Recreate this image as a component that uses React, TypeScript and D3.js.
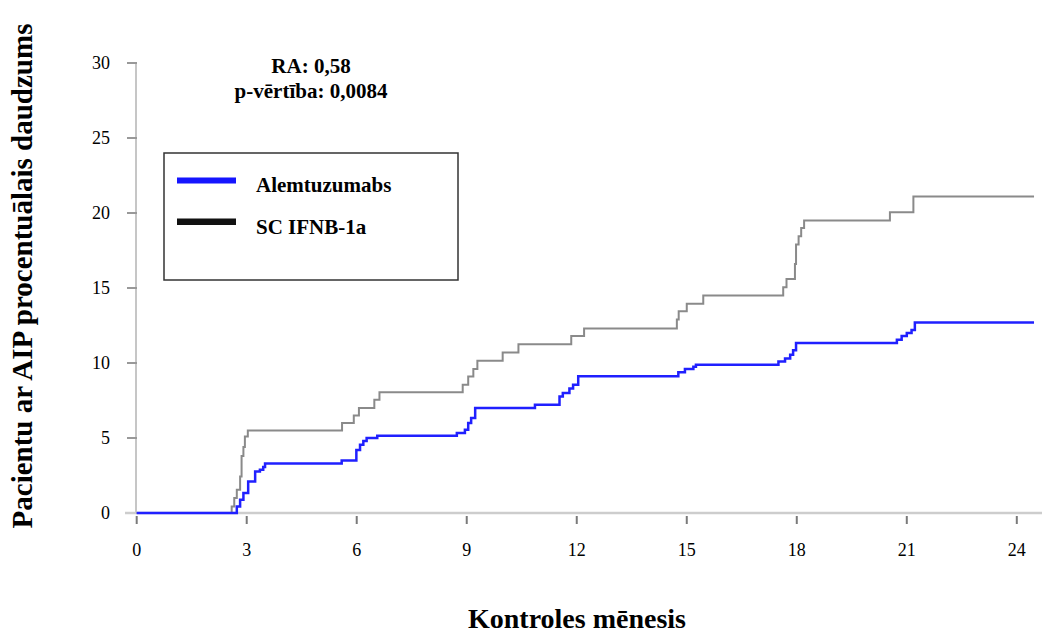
import React from 'react';
import { scaleLinear, line, curveStepAfter } from 'd3';

// axis ticks
const xTicks = [0, 3, 6, 9, 12, 15, 18, 21, 24];
const yTicks = [0, 5, 10, 15, 20, 25, 30];

// [month, % of patients] step points
const alemtuzumabs: [number, number][] = [
  [0, 0], [2.73, 0.44], [2.82, 0.89], [2.91, 1.33], [3.04, 2.1], [3.23, 2.77], [3.36, 2.89], [3.45, 3.07], [3.5, 3.3],
  [5.59, 3.5], [5.99, 4.2], [6.09, 4.55], [6.18, 4.8], [6.27, 5.0], [6.56, 5.15],
  [8.73, 5.33], [8.95, 5.55], [9.04, 6.0], [9.12, 6.33], [9.23, 7.0],
  [10.86, 7.22],
  [11.53, 7.77], [11.62, 8.0], [11.8, 8.3], [11.9, 8.55], [12.04, 9.12],
  [14.77, 9.38], [14.95, 9.6], [15.18, 9.75], [15.25, 9.88],
  [17.5, 10.1], [17.68, 10.3], [17.82, 10.55], [17.9, 10.85], [17.98, 11.33],
  [20.73, 11.55], [20.86, 11.8], [21.0, 12.0], [21.13, 12.2], [21.22, 12.7],
  [24.47, 12.7],
];

const scIfnb: [number, number][] = [
  [0, 0], [2.59, 0.44], [2.66, 1.0], [2.73, 1.55], [2.82, 2.44], [2.86, 3.8], [2.91, 4.4], [2.95, 5.1], [3.03, 5.5],
  [5.6, 6.0], [5.92, 6.5], [6.06, 7.0], [6.48, 7.55], [6.62, 8.05],
  [8.89, 8.55], [9.04, 9.1], [9.18, 9.6], [9.29, 10.15],
  [9.98, 10.7], [10.41, 11.25],
  [11.85, 11.8], [12.2, 12.3],
  [14.73, 12.9], [14.78, 13.45], [15.0, 13.95], [15.45, 14.5],
  [17.63, 15.05], [17.72, 15.6], [17.95, 16.6], [17.98, 17.9], [18.05, 18.45], [18.12, 19.0], [18.2, 19.5],
  [20.54, 20.05], [21.18, 21.1],
  [24.47, 21.1],
];

const seriesNames = ['Alemtuzumabs', 'SC IFNB-1a'];
const statLines = ['RA: 0,58', 'p-vērtība: 0,0084'];
const xTitle = 'Kontroles mēnesis';
const yTitle = 'Pacientu ar AIP procentuālais daudzums';

const font = '"Liberation Serif", "Times New Roman", serif';

function App() {
  const W = 1042, H = 634;

  const x = scaleLinear().domain([0, 24]).range([136.7, 1016.8]);
  const y = scaleLinear().domain([0, 30]).range([513, 63]);

  const step = line<[number, number]>()
    .x(d => x(d[0]))
    .y(d => y(d[1]))
    .curve(curveStepAfter);

  return (
    <svg width={W} height={H} style={{ position: 'absolute', left: 0, top: 0, background: '#fff', fontFamily: font }}>
      <rect width={W} height={H} fill="#fff" />

      {/* y axis */}
      <line x1={136} x2={136} y1={y(30)} y2={y(0)} stroke="#c6c6c6" strokeWidth={2} />
      {yTicks.map(t => (
        <g key={'y' + t}>
          <line x1={127} x2={137} y1={y(t)} y2={y(t)} stroke="#999" strokeWidth={2} />
          <text x={110} y={y(t) + 6} textAnchor="end" fontSize={18}>{t}</text>
        </g>
      ))}

      {/* x axis */}
      <line x1={125} x2={W} y1={y(0)} y2={y(0)} stroke="#cdcdcd" strokeWidth={2.5} />
      {xTicks.map(t => (
        <g key={'x' + t}>
          <line x1={x(t)} x2={x(t)} y1={516} y2={524} stroke="#7a7a7a" strokeWidth={2} />
          <text x={x(t)} y={556} textAnchor="middle" fontSize={18}>{t}</text>
        </g>
      ))}

      {/* curves */}
      <path d={step(scIfnb) || ''} fill="none" stroke="#8a8a8a" strokeWidth={2} />
      <path d={step(alemtuzumabs) || ''} fill="none" stroke="#2020ff" strokeWidth={2.5} />

      {/* stats */}
      {statLines.map((s, i) => (
        <text key={s} x={311} y={73 + i * 25} textAnchor="middle" fontSize={21} fontWeight="bold">{s}</text>
      ))}

      {/* legend */}
      <rect x={164} y={153} width={294} height={127} fill="#fff" stroke="#333" strokeWidth={1.5} />
      <line x1={177} x2={236} y1={180.5} y2={180.5} stroke="#1515ff" strokeWidth={6} />
      <line x1={177} x2={236} y1={221.7} y2={221.7} stroke="#111" strokeWidth={6.5} />
      <text x={256} y={192} fontSize={21} fontWeight="bold">{seriesNames[0]}</text>
      <text x={256} y={234} fontSize={21} fontWeight="bold">{seriesNames[1]}</text>

      {/* axis titles */}
      <text x={577} y={628} textAnchor="middle" fontSize={28} fontWeight="bold">{xTitle}</text>
      <text transform="translate(32,276) rotate(-90)" textAnchor="middle" fontSize={29} fontWeight="bold">{yTitle}</text>
    </svg>
  );
}

export default App;
